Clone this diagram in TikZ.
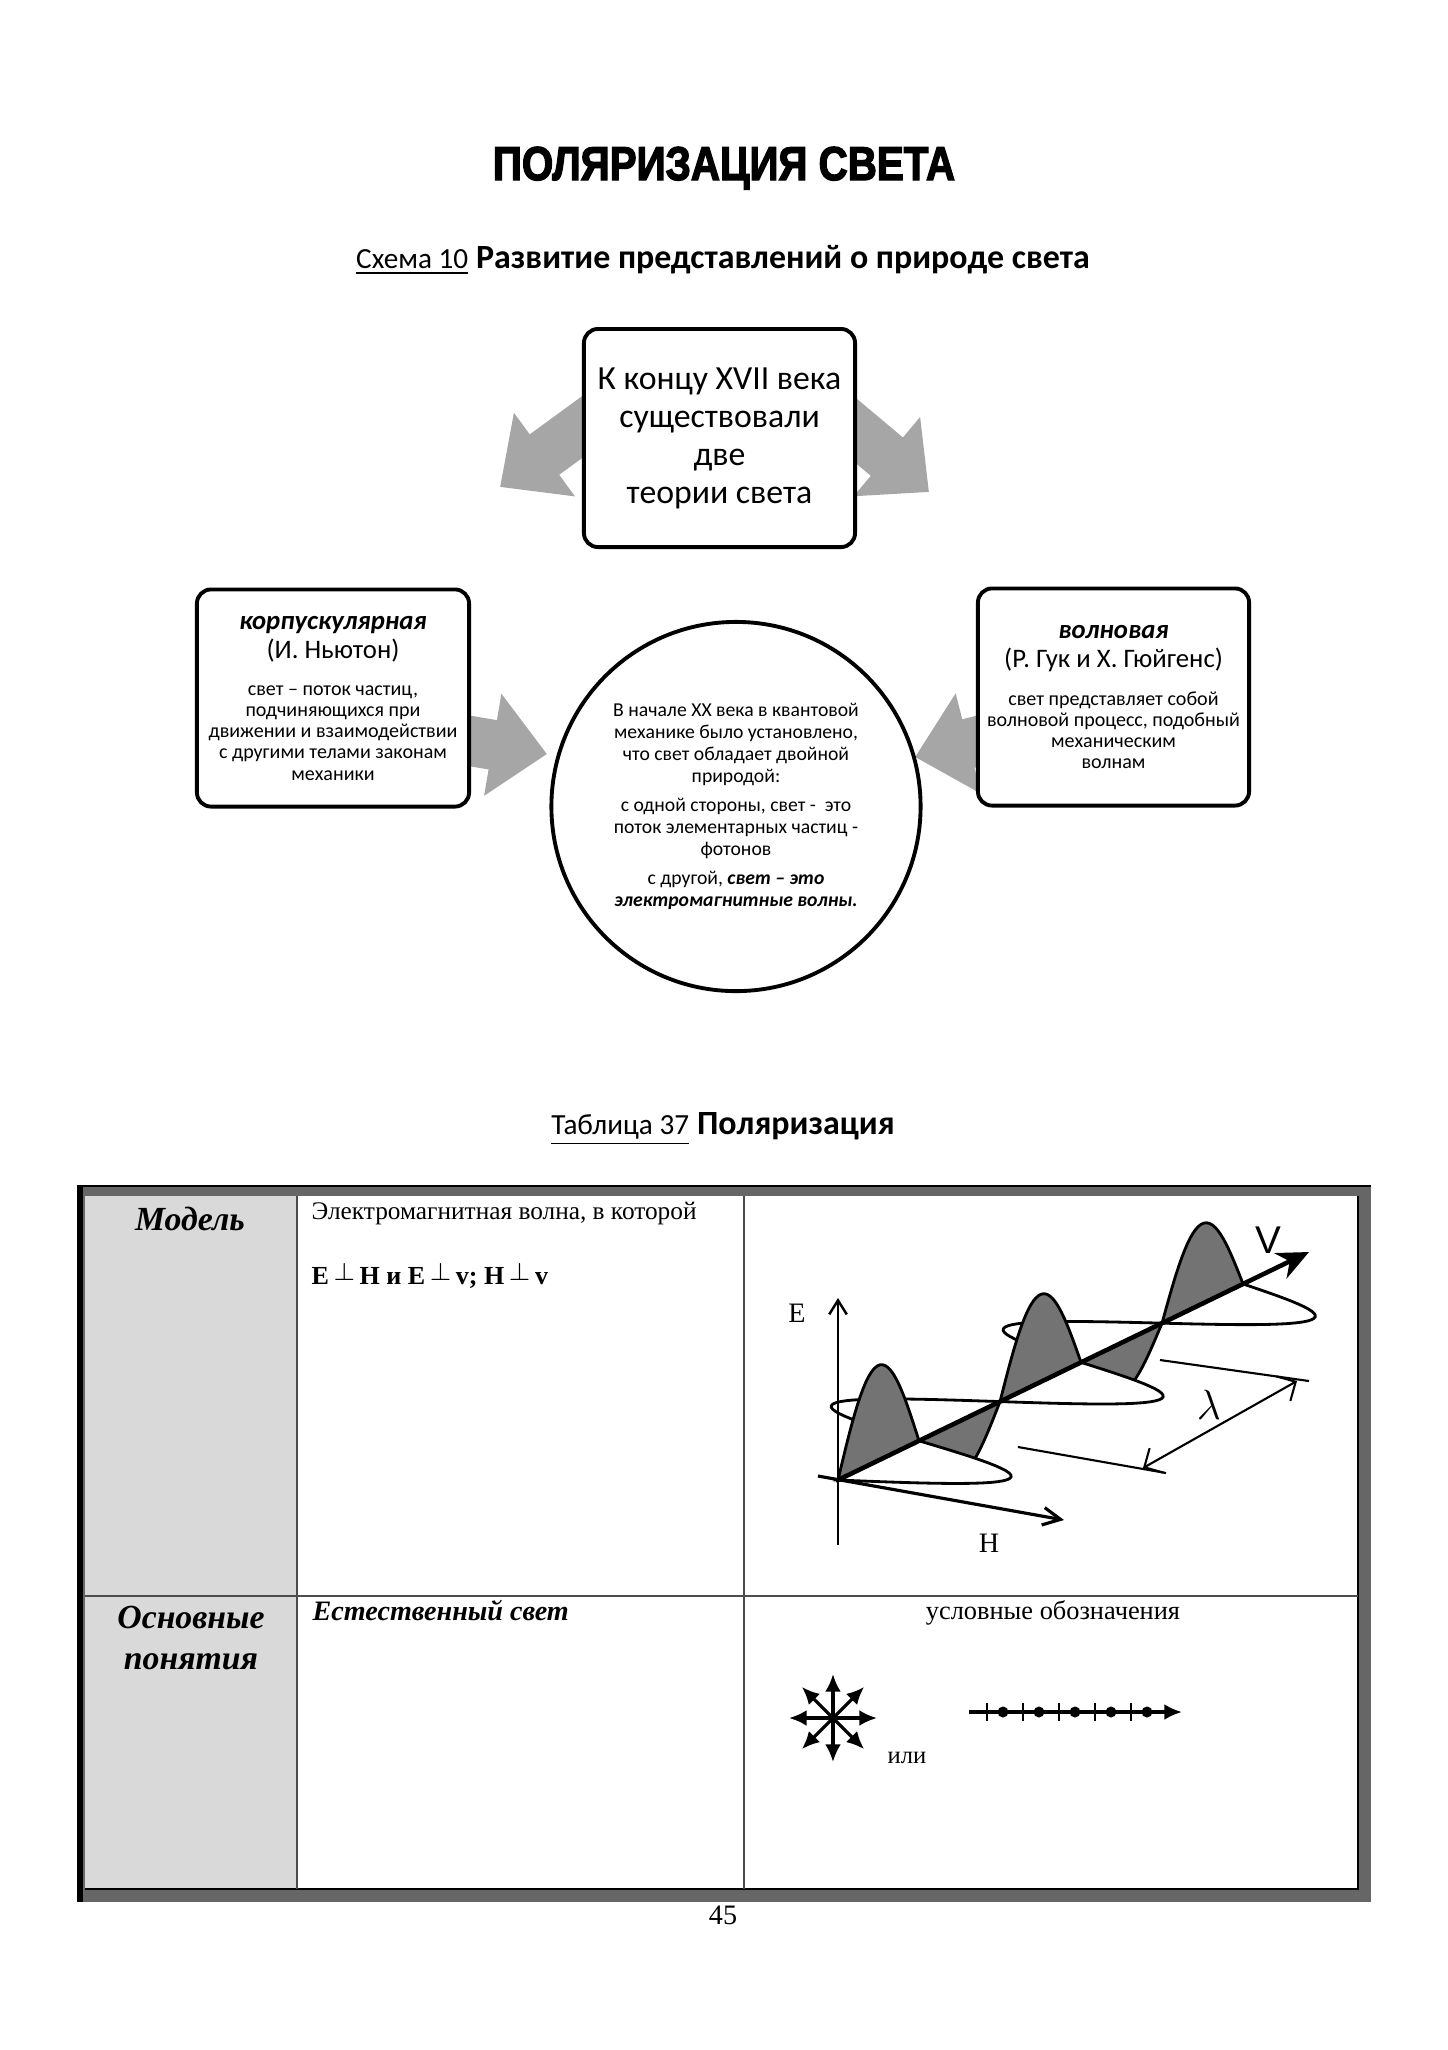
\documentclass[tikz,border=0pt]{standalone}
\usepackage{fontspec}
\usepackage{graphicx}
\setmainfont{Carlito}
\newfontfamily\tnrfont{Liberation Serif}
\newfontfamily\headfont[BoldFeatures={FakeBold=3}]{Liberation Sans}
\usetikzlibrary{arrows.meta,backgrounds}
\newcommand{\theoryname}[1]{{\fontsize{7.6}{8}\selectfont #1}}
\newcommand{\perpsign}{\,\raisebox{0.3ex}{\fontsize{7}{7}\selectfont$\perp$}\,}
\begin{document}
\begin{tikzpicture}[x=0.01cm, y=-0.01cm,
    theorybox/.style={draw, line width=1.1pt, rounded corners=4pt, fill=white, align=center, inner sep=0pt},
    bigarrow/.style={draw=black!35, line width=0.5cm, -{Triangle[length=0.55cm,width=1.0cm]}},
    cellline/.style={draw=black!70, line width=0.5pt},
    hloop/.style={draw, line width=0.8pt, fill=white},
    elobe/.style={draw, line width=0.8pt, fill=black!55},
    symarrow/.style={line width=0.9pt, -{Latex[length=5pt,width=4.5pt]}}]
    % ==== Parameters ====
    \def\Ox{838} \def\Oy{1480}   % origin of the wave axes
    \def\Vx{471} \def\Vy{-228}   % direction of propagation v
    \def\HW{0.172}               % half wavelength, in units of v
    \useasboundingbox (0,0) rectangle (1447,2050);

    % Headings
    \node[anchor=base] (title) at (724,180) {\headfont\bfseries\fontsize{13.5}{14}\selectfont\scalebox{0.85}[1]{ПОЛЯРИЗАЦИЯ СВЕТА}};
    \node[anchor=base] (scheme) at (723,268) {{\fontsize{8.3}{10}\selectfont\underline{Схема 10}} {\fontsize{9.65}{12}\selectfont\bfseries Развитие представлений о природе света}};

    % Two theories
    \node[theorybox, minimum width=2.71cm, minimum height=2.18cm, font={\fontsize{9.6}{10.8}\selectfont\lineskiplimit=-20pt}] (top) at (719.5,438)
        {К концу XVII века\\существовали\\две\\теории света};
    \node[theorybox, minimum width=2.72cm, minimum height=2.17cm, font={\fontsize{5.7}{6}\selectfont\lineskiplimit=-20pt}] (corp) at (333,698)
        {\theoryname{\bfseries\itshape корпускулярная}\\[2.25pt]
         \theoryname{(И. Ньютон)}\\[4.7pt]
         свет – поток частиц,\\подчиняющихся при\\движении и взаимодействии\\с другими телами законам\\механики};
    \node[theorybox, minimum width=2.71cm, minimum height=2.17cm, font={\fontsize{5.7}{6}\selectfont\lineskiplimit=-20pt}] (wave) at (1113.5,697)
        {\theoryname{\bfseries\itshape волновая}\\[2.25pt]
         \theoryname{(Р. Гук и Х. Гюйгенс)}\\[4.7pt]
         свет представляет собой\\волновой процесс, подобный\\механическим\\волнам};
    \node[draw, circle, line width=1.1pt, fill=white, minimum size=3.69cm, inner sep=0pt, align=center,
          font={\fontsize{5.6}{6.2}\selectfont\lineskiplimit=-20pt}] (dual) at (736,806.5)
        {В начале XX века в квантовой\\механике было установлено,\\что свет обладает двойной\\природой:\\[2.2pt]
         с одной стороны, свет -~ это\\поток элементарных частиц -\\фотонов\\[2.2pt]
         с другой, \textbf{\textit{свет – это}}\\\textbf{\textit{электромагнитные волны.}}};

    % Gray arrows
    \coordinate (tlTip) at (500,487);
    \coordinate (trTip) at (929,492);
    \coordinate (mlTip) at (547,754);
    \coordinate (mrTip) at (915,757);
    \begin{scope}[on background layer]
        \draw[bigarrow] ([shift={(40,-40)}]top.west) -- (tlTip);
        \draw[bigarrow] ([shift={(-40,-40)}]top.east) -- (trTip);
        \draw[bigarrow] ([shift={(-30,38)}]corp.east) -- (mlTip);
        \draw[bigarrow] ([shift={(30,37)}]wave.west) -- (mrTip);
    \end{scope}

    \node[anchor=base] (tabtitle) at (723,1134) {{\fontsize{8.3}{10}\selectfont\underline{Таблица 37}} {\fontsize{9.65}{12}\selectfont\bfseries Поляризация}};

    % ==== Table ====
    \fill[black!60] (77,1186) rectangle (1371,1902);
    \fill[white] (85,1196) rectangle (1358,1889);
    \fill[gray!30] (85,1196) rectangle (297,1889);
    \draw[line width=0.8pt] (77,1186) -- (1371,1186);
    \draw[line width=1.8pt] (80,1186) -- (80,1902);
    \draw[line width=0.8pt] (85,1889) -- (1358,1889) -- (1358,1196);
    \draw[cellline] (297,1196) -- (297,1889);
    \draw[cellline] (744,1196) -- (744,1889);
    \draw[cellline] (85,1596) -- (1358,1596);

    \node[anchor=base] (model) at (190,1230) {\tnrfont\bfseries\itshape\fontsize{9.6}{11}\selectfont Модель};
    \node[anchor=base west, inner sep=0pt] (emwave) at (311,1219) {\tnrfont\fontsize{7.2}{8}\selectfont Электромагнитная волна, в которой};
    \node[anchor=base west, inner sep=0pt] (perp) at (311,1284) {\tnrfont\bfseries\fontsize{7.4}{8}\selectfont
        E\perpsign H и E\perpsign v; H\perpsign v};
    \node[align=center, font={\tnrfont\bfseries\itshape\fontsize{9.6}{11.4}\selectfont}] (basics) at (191,1638) {Основные\\понятия};
    \node[anchor=base west, inner sep=0pt] (natural) at (312,1620) {\tnrfont\bfseries\itshape\fontsize{8}{9}\selectfont Естественный свет};
    \node[anchor=base] (signs) at (1053,1619) {\tnrfont\fontsize{7.5}{9}\selectfont условные обозначения};
    \node[anchor=base] (or) at (907,1763) {\tnrfont\fontsize{7}{8}\selectfont или};
    \node[anchor=base] (page) at (723,1924) {\tnrfont\fontsize{8}{9}\selectfont 45};

    % ==== Electromagnetic wave ====
    % loops of H behind the plane of E
    \foreach \k in {1,3}{
        \pgfmathsetmacro{\ta}{\k*\HW} \pgfmathsetmacro{\tb}{(\k+1)*\HW}
        \draw[hloop] plot[domain=\ta:\tb, samples=30]
            ({\Ox+\Vx*\x-(135-30*\x)*0.985*sin(180*(\x-\ta)/\HW)}, {\Oy+\Vy*\x-(135-30*\x)*0.14*sin(180*(\x-\ta)/\HW)}) -- cycle;
      }
    % lobes of E (the lower ones look shorter)
    \foreach \k in {0,...,4}{
        \pgfmathsetmacro{\ta}{\k*\HW} \pgfmathsetmacro{\tb}{(\k+1)*\HW}
        \pgfmathsetmacro{\s}{mod(\k,2)==0 ? 1 : -0.6}
        \draw[elobe] plot[domain=\ta:\tb, samples=30]
            ({\Ox+\Vx*\x}, {\Oy+\Vy*\x-(\s)*(97-22*\x)*sin(180*(\x-\ta)/\HW)}) -- cycle;
      }
    % loops of H in front
    \foreach \k in {0,2,4}{
        \pgfmathsetmacro{\ta}{\k*\HW} \pgfmathsetmacro{\tb}{(\k+1)*\HW}
        \draw[hloop] plot[domain=\ta:\tb, samples=30]
            ({\Ox+\Vx*\x+(135-30*\x)*0.985*sin(180*(\x-\ta)/\HW)}, {\Oy+\Vy*\x+(135-30*\x)*0.14*sin(180*(\x-\ta)/\HW)}) -- cycle;
      }

    % Axes
    \coordinate (orig) at (\Ox,\Oy);
    \coordinate (vTip) at (1309,1252);
    \coordinate (eTop) at (838,1298);
    \coordinate (eBot) at (838,1545);
    \coordinate (hTail) at (818,1476);
    \coordinate (hTip) at (1064,1520);
    \draw[line width=1.3pt, -{Stealth[length=9pt,width=8pt]}] (orig) -- (vTip);
    \draw[line width=0.7pt, -{Straight Barb[length=4pt,width=5pt]}] (eBot) -- (eTop);
    \draw[line width=0.9pt, -{Straight Barb[length=5pt,width=5pt]}] (hTail) -- (hTip);
    \node (eLab) at (797,1313) {\tnrfont\fontsize{8}{9}\selectfont E};
    \node (hLab) at (989,1543) {\tnrfont\fontsize{8}{9}\selectfont H};
    \node (vLab) at (1268,1240) {\headfont\fontsize{11}{12}\selectfont V};

    % Wavelength
    \coordinate (lamA1) at (1018,1447); \coordinate (lamA2) at (1166,1473);
    \coordinate (lamB1) at (1160,1360); \coordinate (lamB2) at (1309,1381);
    \coordinate (lamA) at (1143,1468); \coordinate (lamB) at (1297,1381);
    \draw[line width=0.6pt] (lamA1) -- (lamA2);
    \draw[line width=0.6pt] (lamB1) -- (lamB2);
    \draw[line width=0.6pt, {Straight Barb[length=4pt]}-{Straight Barb[length=4pt]}] (lamA) -- (lamB);
    \node (lam) at (1209,1405) {\fontsize{12}{12}\selectfont$\lambda$};

    % ==== Symbols of natural light ====
    \coordinate (star) at (833,1718);
    \foreach \a in {0,45,...,315}
        \draw[symarrow] (star) -- ++(\a:44);
    \coordinate (rayA) at (969,1712);
    \coordinate (rayB) at (1182,1712);
    \draw[symarrow] (rayA) -- (rayB);
    \foreach \i in {0,...,4}{
        \draw[line width=0.8pt] (987+36*\i,1703) -- (987+36*\i,1721);
        \fill (1003+36*\i,1712) circle[radius=5.5];
      }
\end{tikzpicture}
\end{document}
